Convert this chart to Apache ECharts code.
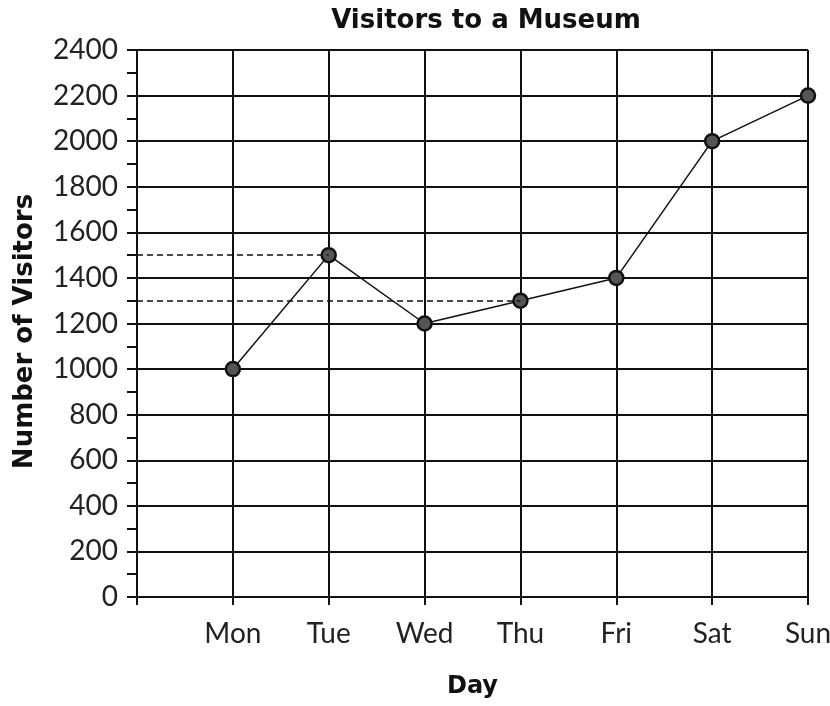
<html>
<head>
<meta charset="utf-8">
<script src="https://cdn.jsdelivr.net/npm/echarts@6/dist/echarts.min.js"></script>
<style>
	body { margin: 0; background: #fff; }
	#chart-main { width: 830px; height: 706px; }
</style>
</head>
<body>
<div id="chart-main"></div>

<script type="text/javascript">
	// data
	var days = ['', 'Mon', 'Tue', 'Wed', 'Thu', 'Fri', 'Sat', 'Sun'];
	var visitors = [null, 1000, 1500, 1200, 1300, 1400, 2000, 2200];
	var yTicks = { min: 0, max: 2400, interval: 200 };
	// dashed guide lines: [value, day they reach]
	var guides = [[1500, 'Tue'], [1300, 'Thu']];

	var labelFont = 'Lato, "DejaVu Sans", sans-serif';
	var boldFont = '"DejaVu Sans", Lato, sans-serif';
	var myChart = echarts.init(document.getElementById('chart-main'));

	var option = {
		backgroundColor: '#fff',
		animation: false,
		title: {
			text: 'Visitors to a Museum',
			left: 481,
			textAlign: 'center',
			top: 3,
			textStyle: { fontFamily: boldFont, fontSize: 26, fontWeight: 'bold', color: '#111' }
		},
		grid: { left: 137, right: 22, top: 50, bottom: 109, containLabel: false, outerBoundsMode: 'none' },
		xAxis: {
			type: 'category',
			data: days,
			boundaryGap: false,
			name: 'Day',
			nameLocation: 'middle',
			nameGap: 78,
			nameTextStyle: { fontFamily: boldFont, fontSize: 24, fontWeight: 'bold', color: '#111' },
			axisLine: { lineStyle: { color: '#111', width: 2 } },
			axisTick: { show: true, length: 8, lineStyle: { color: '#111', width: 2 } },
			axisLabel: { fontFamily: labelFont, fontSize: 28, color: '#222', margin: 23, interval: 0 },
			splitLine: { show: true, interval: 0, lineStyle: { color: '#111', width: 2 } }
		},
		yAxis: {
			type: 'value',
			min: yTicks.min,
			max: yTicks.max,
			interval: yTicks.interval,
			name: 'Number of Visitors',
			nameLocation: 'middle',
			nameRotate: 90,
			nameGap: 99,
			nameTextStyle: {
				fontFamily: boldFont, fontSize: 26, fontWeight: 'bold', color: '#111',
				padding: [0, 16, 0, 0]
			},
			axisLine: { show: true, lineStyle: { color: '#111', width: 2 } },
			axisTick: { show: true, length: 10, lineStyle: { color: '#111', width: 2 } },
			minorTick: { show: true, splitNumber: 2, length: 10, lineStyle: { color: '#111', width: 2 } },
			axisLabel: {
				fontFamily: labelFont, fontSize: 28, color: '#222', margin: 19,
				formatter: function (v) { return String(v); }
			},
			splitLine: { show: true, lineStyle: { color: '#111', width: 2 } }
		},
		series: [
			{
				name: 'Visitors',
				type: 'line',
				data: visitors,
				symbol: 'circle',
				symbolSize: 14,
				itemStyle: { color: '#555', borderColor: '#111', borderWidth: 2.5 },
				lineStyle: { color: '#111', width: 1.5 },
				markLine: {
					silent: true,
					symbol: ['none', 'none'],
					label: { show: false },
					lineStyle: { color: '#111', width: 1.5, type: [6, 4] },
					data: guides.map(function (g) {
						return [{ coord: [0, g[0]] }, { coord: [g[1], g[0]] }];
					})
				}
			}
		]
	};

	myChart.setOption(option);
</script>
</body>
</html>
